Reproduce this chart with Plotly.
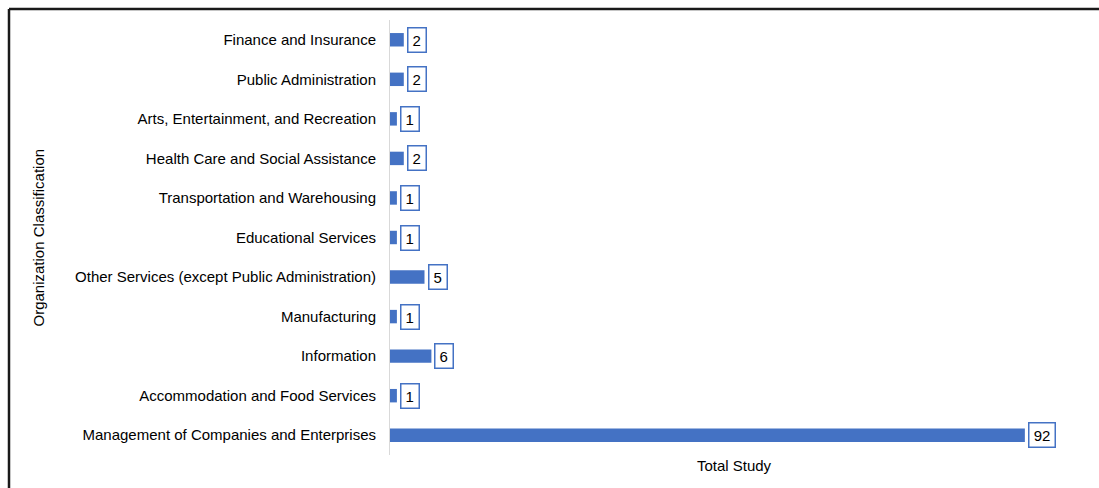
import plotly.graph_objects as go

categories = [
    "Management of Companies and Enterprises",
    "Accommodation and Food Services",
    "Information",
    "Manufacturing",
    "Other Services (except Public Administration)",
    "Educational Services",
    "Transportation and Warehousing",
    "Health Care and Social Assistance",
    "Arts, Entertainment, and Recreation",
    "Public Administration",
    "Finance and Insurance",
]
values = [92, 1, 6, 1, 5, 1, 1, 2, 1, 2, 2]

W, H = 1099, 488
L, R, T, B = 390, 21, 20, 33
pw = W - L - R
ph = H - T - B
FONT = "Liberation Sans, Arial"

fig = go.Figure()
fig.add_trace(go.Bar(
    y=categories, x=values, orientation="h",
    marker=dict(color="#4472C4", line=dict(width=0)),
    width=0.34,
    hoverinfo="x+y",
))

for c, v in zip(categories, values):
    txt = str(v)
    fig.add_annotation(
        x=v, y=c, xref="x", yref="y", text=txt,
        showarrow=False, xanchor="left", yanchor="middle", xshift=3,
        width=2 + 8.5 * len(txt), align="center",
        font=dict(family=FONT, size=15, color="#000000"),
        bgcolor="#FFFFFF", bordercolor="#4472C4", borderwidth=1.5, borderpad=3,
    )

fig.add_annotation(
    x=(38 - L) / pw, y=0.5, xref="paper", yref="paper",
    text="Organization Classification", textangle=-90, showarrow=False,
    xanchor="center", yanchor="middle",
    font=dict(family=FONT, size=15, color="#000000"),
)

# outer chart border (top and left visible)
fig.add_shape(type="line", xref="paper", yref="paper",
              x0=(9 - L) / pw, x1=(W + 20 - L) / pw,
              y0=(H - B - 9) / ph, y1=(H - B - 9) / ph,
              line=dict(color="#1a1a1a", width=2.5))
fig.add_shape(type="line", xref="paper", yref="paper",
              x0=(9 - L) / pw, x1=(9 - L) / pw,
              y0=(H - B - 9) / ph, y1=-1,
              line=dict(color="#1a1a1a", width=2.5))

fig.update_layout(
    width=W, height=H,
    margin=dict(l=L, r=R, t=T, b=B, autoexpand=False),
    paper_bgcolor="#FFFFFF", plot_bgcolor="#FFFFFF",
    showlegend=False,
    font=dict(family=FONT, size=15, color="#000000"),
    xaxis=dict(range=[0, 99.7], showgrid=False, zeroline=False, showticklabels=False,
               ticks="", showline=False, fixedrange=True,
               title=dict(text="Total Study", standoff=5,
                          font=dict(family=FONT, size=15, color="#000000"))),
    yaxis=dict(showgrid=False, zeroline=False, showline=True, linecolor="#D9D9D9", linewidth=1,
               ticks="", ticklabelstandoff=10, automargin=False, fixedrange=True,
               tickfont=dict(family=FONT, size=15, color="#000000")),
)

fig.write_html("out.html")
